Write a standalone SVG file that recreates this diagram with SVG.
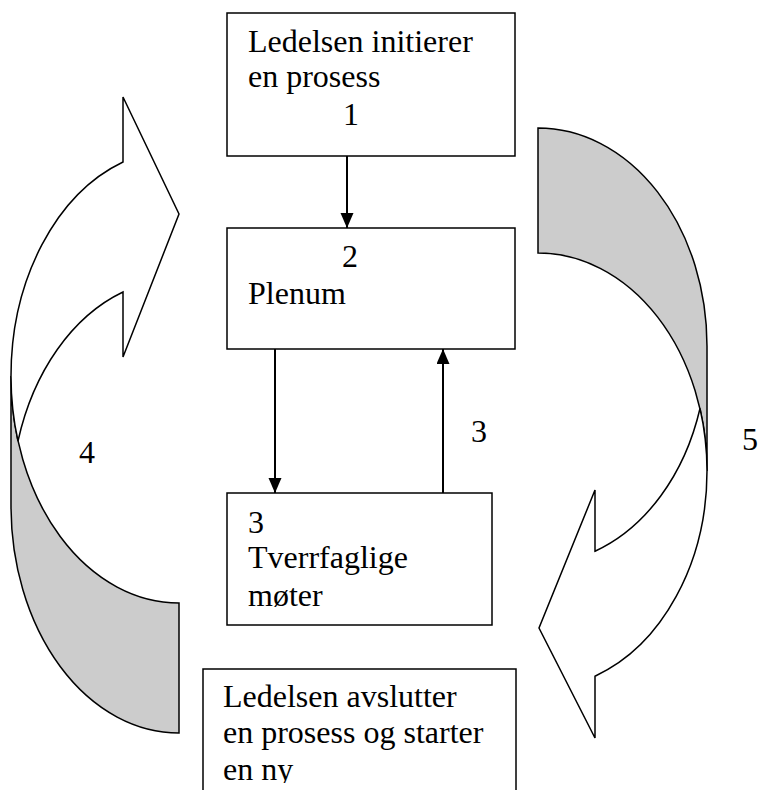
<svg xmlns="http://www.w3.org/2000/svg" width="758" height="790" viewBox="0 0 758 790">
<style>
.box{fill:#fff;stroke:#000;stroke-width:1.5}
.back{fill:#cccccc;stroke:#000;stroke-width:1.5;stroke-linejoin:miter}
.front{fill:#fff;stroke:#000;stroke-width:1.5;stroke-linejoin:miter}
.conn{stroke:#000;stroke-width:2;fill:none}
.t{font-family:'Liberation Serif',serif;font-size:32px;fill:#000}
</style>
<defs>
<marker id="ah" markerUnits="userSpaceOnUse" markerWidth="16" markerHeight="14" refX="15" refY="6.5" orient="auto">
<path d="M0,0 L15,6.5 L0,13 Z" fill="#000"/>
</marker>
<clipPath id="clipBottom"><rect x="0" y="0" width="758" height="783"/></clipPath>
</defs>
<rect width="758" height="790" fill="#fff"/>
<g id="arrow4">
<path class="back" d="M179,603 L179,733 A168 227 0 0 1 11,506 L11,376 A168 227 0 0 0 179,603 Z"/>
<path class="front" d="M11,376 A168 227 0 0 1 123,162 L123,97 L179,214 L123,357 L123,292 A168 227 0 0 0 18,441 A168 227 0 0 1 11,376 Z"/>
<text class="t" font-family="Liberation Serif, serif" x="79" y="463">4</text>
</g>
<g id="arrow5">
<path class="back" d="M538,128 A169 218 0 0 1 707,346 L707,471 A169 218 0 0 0 538,253 Z"/>
<path class="front" d="M707,471 A169 218 0 0 1 595,676.2 L595,738 L539,628 L595,490 L595,551.2 A169 218 0 0 0 700,408.5 A169 218 0 0 1 707,471 Z"/>
<text class="t" font-family="Liberation Serif, serif" x="742" y="450">5</text>
</g>
<g id="node1" font-family="Liberation Serif, serif">
<rect class="box" x="227" y="13" width="288" height="143"/>
<text class="t" x="248" y="52">Ledelsen initierer</text>
<text class="t" x="248" y="87">en prosess</text>
<text class="t" x="343" y="125">1</text>
</g>
<g id="node2" font-family="Liberation Serif, serif">
<rect class="box" x="227" y="228" width="288" height="121"/>
<text class="t" x="342" y="267">2</text>
<text class="t" x="248" y="304">Plenum</text>
</g>
<g id="node3" font-family="Liberation Serif, serif">
<rect class="box" x="227" y="493" width="265" height="132"/>
<text class="t" x="248" y="533">3</text>
<text class="t" x="248" y="568">Tverrfaglige</text>
<text class="t" x="248" y="606">møter</text>
</g>
<g id="node4" font-family="Liberation Serif, serif">
<rect class="box" x="203" y="669" width="313" height="200"/>
<text class="t" x="223" y="707">Ledelsen avslutter</text>
<text class="t" x="223" y="743">en prosess og starter</text>
<text class="t" x="223" y="780" clip-path="url(#clipBottom)">en ny</text>
</g>
<g id="connectors">
<line class="conn" x1="347" y1="156" x2="347" y2="228" marker-end="url(#ah)"/>
<line class="conn" x1="275" y1="349" x2="275" y2="493" marker-end="url(#ah)"/>
<line class="conn" x1="443" y1="493" x2="443" y2="349" marker-end="url(#ah)"/>
<text class="t" font-family="Liberation Serif, serif" x="471" y="442">3</text>
</g>
</svg>
